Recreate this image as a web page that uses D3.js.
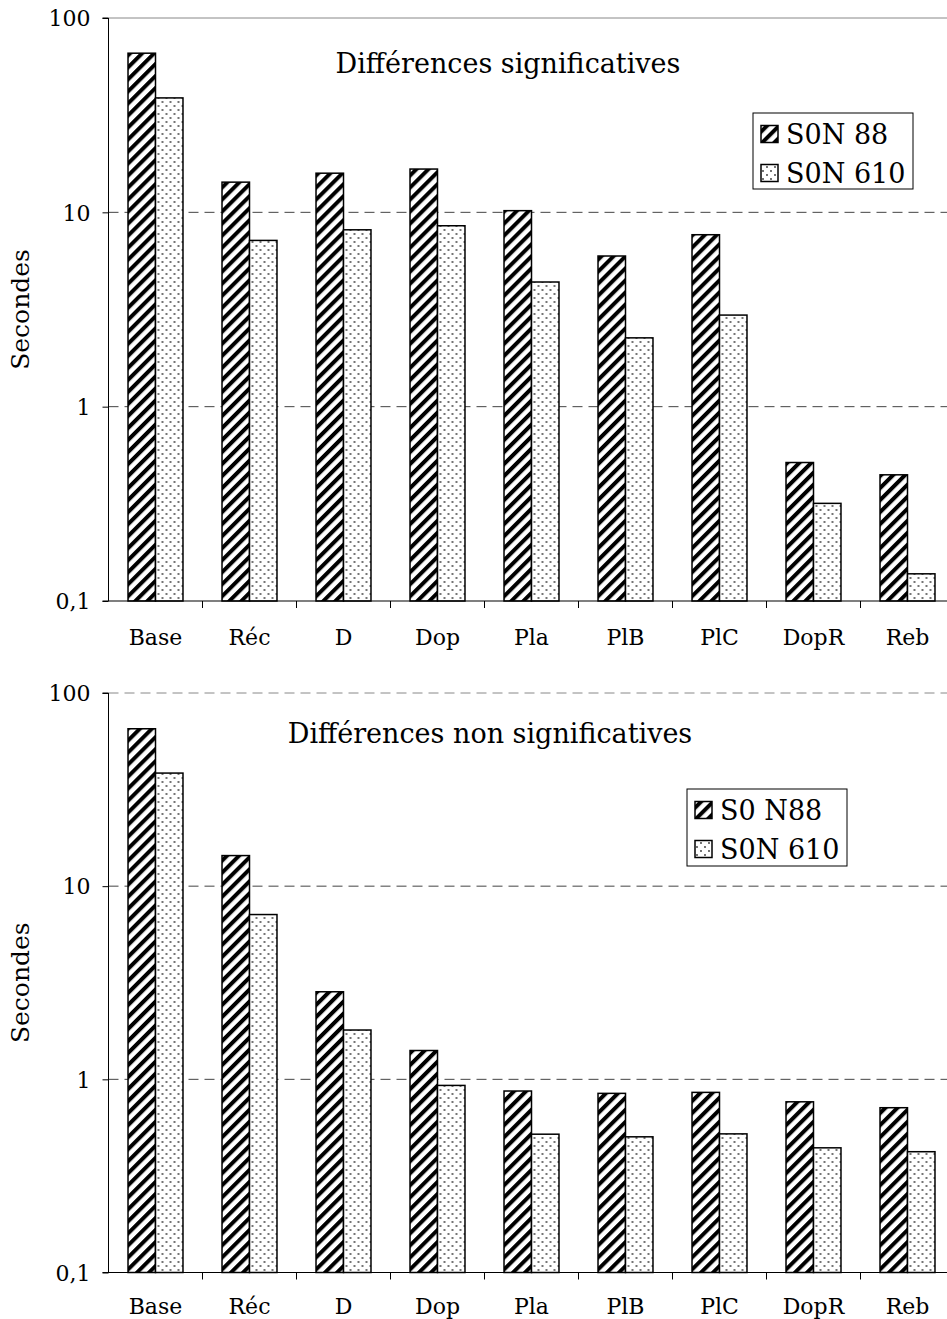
<!DOCTYPE html>
<html>
<head>
<meta charset="utf-8">
<script src="https://cdnjs.cloudflare.com/ajax/libs/d3/7.8.5/d3.min.js"></script>
<style>
  html, body { margin: 0; padding: 0; background: #fff; overflow: hidden; }
  svg { display: block; }
  svg text { font-family: "DejaVu Serif", "Liberation Serif", serif; fill: #000; }
</style>
</head>
<body>
<svg id="chart" width="947" height="1319"></svg>
<script>
// ---- Data ----
const categories = ["Base", "Réc", "D", "Dop", "Pla", "PlB", "PlC", "DopR", "Reb"];

const topTitle = "Différences significatives";
const topSeriesNames = ["S0N 88", "S0N 610"];
const topSeriesA = [65.9, 14.3, 15.9, 16.7, 10.2, 5.96, 7.67, 0.516, 0.446];
const topSeriesB = [38.8, 7.17, 8.13, 8.53, 4.38, 2.26, 2.96, 0.318, 0.138];

const bottomTitle = "Différences non significatives";
const bottomSeriesNames = ["S0 N88", "S0N 610"];
const bottomSeriesA = [65.3, 14.4, 2.84, 1.41, 0.87, 0.846, 0.856, 0.765, 0.713];
const bottomSeriesB = [38.5, 7.13, 1.80, 0.93, 0.52, 0.504, 0.522, 0.442, 0.422];

const yTickValues = [0.1, 1, 10, 100];
const yTickLabels = ["0,1", "1", "10", "100"];
const yAxisTitle = "Secondes";

// ---- Drawing ----
const svg = d3.select("#chart");
const defs = svg.append("defs");

// diagonal hatch pattern
const hatch = defs.append("pattern")
  .attr("id", "hatch").attr("patternUnits", "userSpaceOnUse")
  .attr("width", 8.5).attr("height", 8.5)
  .attr("patternTransform", "rotate(45)");
hatch.append("rect").attr("width", 8.5).attr("height", 8.5).attr("fill", "#fff");
hatch.append("rect").attr("x", 0).attr("width", 4).attr("height", 8.5).attr("fill", "#000");

// dotted pattern
const dots = defs.append("pattern")
  .attr("id", "dots").attr("patternUnits", "userSpaceOnUse")
  .attr("width", 8).attr("height", 8);
dots.append("rect").attr("width", 8).attr("height", 8).attr("fill", "#fff");
dots.append("circle").attr("cx", 2).attr("cy", 2).attr("r", 0.9).attr("fill", "#333");
dots.append("circle").attr("cx", 6).attr("cy", 6).attr("r", 0.9).attr("fill", "#333");

const fills = ["url(#hatch)", "url(#dots)"];
const FONT = 22;

function drawChart(cfg) {
  const { yTop, yBottom, left, right, title, titleX, titleY, names, seriesA, seriesB, legend, topDashed, labelOffset } = cfg;
  const g = svg.append("g");

  const x = d3.scaleBand().domain(categories).range([left, right]).paddingInner(0).paddingOuter(0);
  const x1 = d3.scaleBand().domain([0, 1]).range([0, x.bandwidth()]).paddingInner(0).paddingOuter(0.71);
  const y = d3.scaleLog().domain([0.1, 100]).range([yBottom, yTop]);

  // gridlines
  g.append("g").selectAll("line")
    .data(yTickValues.filter(v => v > 0.1))
    .join("line")
    .attr("x1", left).attr("x2", 947)
    .attr("y1", d => y(d)).attr("y2", d => y(d))
    .attr("stroke", d => d === 100 ? "#888" : "#444")
    .attr("stroke-width", 1)
    .attr("stroke-dasharray", d => (d === 100 && !topDashed) ? null : "10,6");

  // bars
  const data = categories.map((c, i) => ({ c, vals: [seriesA[i], seriesB[i]] }));
  const grp = g.append("g").selectAll("g").data(data).join("g")
    .attr("transform", d => `translate(${x(d.c)},0)`);
  grp.selectAll("rect").data(d => d.vals.map((v, k) => ({ v, k })))
    .join("rect")
    .attr("x", d => x1(d.k))
    .attr("width", x1.bandwidth())
    .attr("y", d => y(d.v))
    .attr("height", d => yBottom - y(d.v))
    .attr("fill", d => fills[d.k])
    .attr("stroke", "#000").attr("stroke-width", 1.5);

  // y axis
  const yAxis = d3.axisLeft(y).tickValues(yTickValues)
    .tickFormat((d, i) => yTickLabels[i]).tickSize(6).tickPadding(12);
  const ya = g.append("g").attr("transform", `translate(${left},0)`).call(yAxis);
  ya.select(".domain").attr("d", `M-6,${yTop}H0V${yBottom}`).attr("stroke", "#000");
  ya.selectAll(".tick line").attr("stroke", "#000");
  ya.selectAll(".tick text").attr("font-size", FONT).attr("font-family", "DejaVu Serif").attr("dy", "0.35em");

  // x axis
  const xa = g.append("g").attr("transform", `translate(0,${yBottom})`);
  xa.append("line").attr("x1", left - 6).attr("x2", 947).attr("y1", 0).attr("y2", 0)
    .attr("stroke", "#000").attr("stroke-width", 1.2);
  xa.selectAll("line.tk").data(categories.slice(1)).join("line").attr("class", "tk")
    .attr("x1", d => x(d)).attr("x2", d => x(d)).attr("y1", 0).attr("y2", 7)
    .attr("stroke", "#000");
  xa.selectAll("text").data(categories).join("text")
    .attr("x", d => x(d) + x.bandwidth() / 2).attr("y", labelOffset)
    .attr("text-anchor", "middle").attr("font-size", FONT)
    .text(d => d);

  // y axis title
  g.append("text")
    .attr("transform", `translate(29,${(yTop + yBottom) / 2}) rotate(-90)`)
    .attr("text-anchor", "middle").attr("font-size", 25)
    .text(yAxisTitle);

  // title
  g.append("text").attr("x", titleX).attr("y", titleY)
    .attr("text-anchor", "middle").attr("font-size", 27).text(title);

  // legend
  const lg = g.append("g").attr("transform", `translate(${legend.x},${legend.y})`);
  lg.append("rect").attr("width", legend.w).attr("height", legend.h)
    .attr("fill", "#fff").attr("stroke", "#000").attr("stroke-width", 1);
  names.forEach((n, k) => {
    const cy = 21 + k * 39;
    lg.append("rect").attr("x", 8).attr("y", cy - 8.5).attr("width", 17).attr("height", 17)
      .attr("fill", fills[k]).attr("stroke", "#000").attr("stroke-width", 1.5);
    lg.append("text").attr("x", 33).attr("y", cy + 10)
      .attr("font-size", 27).text(n);
  });
}

drawChart({
  yTop: 18, yBottom: 601, left: 108.5, right: 954.5,
  title: topTitle, titleX: 508, titleY: 73, labelOffset: 44,
  names: topSeriesNames, seriesA: topSeriesA, seriesB: topSeriesB,
  legend: { x: 753, y: 113, w: 160, h: 76 }, topDashed: false
});

drawChart({
  yTop: 693, yBottom: 1272.5, left: 108.5, right: 954.5,
  title: bottomTitle, titleX: 490, titleY: 743, labelOffset: 41,
  names: bottomSeriesNames, seriesA: bottomSeriesA, seriesB: bottomSeriesB,
  legend: { x: 687, y: 789, w: 160, h: 77 }, topDashed: true
});
</script>
</body>
</html>
